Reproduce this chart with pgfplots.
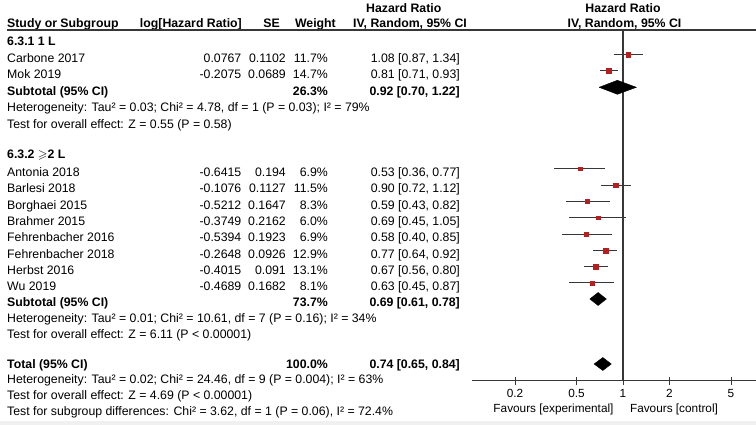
\documentclass[border=0pt]{standalone}
\usepackage{pgfplots}
\pgfplotsset{compat=1.18}
\usepackage{amssymb}
\usepackage{fontspec}
\setmainfont{Liberation Sans}
\definecolor{mred}{RGB}{180,32,32}
\definecolor{lgray}{RGB}{55,55,55}
\newcommand{\Lt}[3]{\node[anchor=base west,inner sep=0pt] at (#1,#2) {#3};}
\newcommand{\Rt}[3]{\node[anchor=base east,inner sep=0pt] at (#1,#2) {#3};}
\newcommand{\Ct}[3]{\node[anchor=base,inner sep=0pt] at (#1,#2) {#3};}
\begin{document}
\begin{tikzpicture}[x=1pt,y=-1pt]
\fontsize{12.3}{15}\selectfont
\useasboundingbox (0,0) rectangle (756,425);
% headers
\Lt{366}{12.3}{\textbf{Hazard Ratio}}
\Ct{623}{12.3}{\textbf{Hazard Ratio}}
\Lt{7}{28}{\textbf{Study or Subgroup}}
\Rt{242}{28}{\textbf{log[Hazard Ratio]}}
\Rt{280}{28}{\textbf{SE}}
\Rt{336}{28}{\textbf{Weight}}
\Lt{353}{28}{\textbf{IV, Random, 95\% CI}}
\Ct{624.5}{28}{\textbf{IV, Random, 95\% CI}}
\draw[lgray,line width=1.2pt] (7,30) -- (756,30);
% group 1
\Lt{7}{45.5}{\textbf{6.3.1 1 L}}
\Lt{7}{62.5}{Carbone 2017}\Rt{241.5}{62.5}{0.0767}\Rt{286}{62.5}{0.1102}\Rt{328}{62.5}{11.7\%}\Rt{460}{62.5}{1.08 [0.87, 1.34]}
\Lt{7}{79}{Mok 2019}\Rt{241.5}{79}{-0.2075}\Rt{286}{79}{0.0689}\Rt{328}{79}{14.7\%}\Rt{460}{79}{0.81 [0.71, 0.93]}
\Lt{7}{95.3}{\textbf{Subtotal (95\% CI)}}\Rt{328}{95.3}{\textbf{26.3\%}}\Rt{460}{95.3}{\textbf{0.92 [0.70, 1.22]}}
\Lt{7}{111.7}{Heterogeneity: Tau² = 0.03; Chi² = 4.78, df = 1 (P = 0.03); I² = 79\%}
\Lt{7}{128.2}{Test for overall effect: Z = 0.55 (P = 0.58)}
% group 2
\Lt{7}{158.5}{\textbf{6.3.2 $\geqslant$2 L}}
\Lt{7}{176.5}{Antonia 2018}\Rt{241.5}{176.5}{-0.6415}\Rt{286}{176.5}{0.194}\Rt{328}{176.5}{6.9\%}\Rt{460}{176.5}{0.53 [0.36, 0.77]}
\Lt{7}{193}{Barlesi 2018}\Rt{241.5}{193}{-0.1076}\Rt{286}{193}{0.1127}\Rt{328}{193}{11.5\%}\Rt{460}{193}{0.90 [0.72, 1.12]}
\Lt{7}{209.5}{Borghaei 2015}\Rt{241.5}{209.5}{-0.5212}\Rt{286}{209.5}{0.1647}\Rt{328}{209.5}{8.3\%}\Rt{460}{209.5}{0.59 [0.43, 0.82]}
\Lt{7}{225.7}{Brahmer 2015}\Rt{241.5}{225.7}{-0.3749}\Rt{286}{225.7}{0.2162}\Rt{328}{225.7}{6.0\%}\Rt{460}{225.7}{0.69 [0.45, 1.05]}
\Lt{7}{241.8}{Fehrenbacher 2016}\Rt{241.5}{241.8}{-0.5394}\Rt{286}{241.8}{0.1923}\Rt{328}{241.8}{6.9\%}\Rt{460}{241.8}{0.58 [0.40, 0.85]}
\Lt{7}{258.2}{Fehrenbacher 2018}\Rt{241.5}{258.2}{-0.2648}\Rt{286}{258.2}{0.0926}\Rt{328}{258.2}{12.9\%}\Rt{460}{258.2}{0.77 [0.64, 0.92]}
\Lt{7}{274.4}{Herbst 2016}\Rt{241.5}{274.4}{-0.4015}\Rt{286}{274.4}{0.091}\Rt{328}{274.4}{13.1\%}\Rt{460}{274.4}{0.67 [0.56, 0.80]}
\Lt{7}{290.7}{Wu 2019}\Rt{241.5}{290.7}{-0.4689}\Rt{286}{290.7}{0.1682}\Rt{328}{290.7}{8.1\%}\Rt{460}{290.7}{0.63 [0.45, 0.87]}
\Lt{7}{306}{\textbf{Subtotal (95\% CI)}}\Rt{328}{306}{\textbf{73.7\%}}\Rt{460}{306}{\textbf{0.69 [0.61, 0.78]}}
\Lt{7}{322.3}{Heterogeneity: Tau² = 0.01; Chi² = 10.61, df = 7 (P = 0.16); I² = 34\%}
\Lt{7}{338.6}{Test for overall effect: Z = 6.11 (P < 0.00001)}
% total
\Lt{7}{368}{\textbf{Total (95\% CI)}}\Rt{328}{368}{\textbf{100.0\%}}\Rt{460}{368}{\textbf{0.74 [0.65, 0.84]}}
\Lt{7}{383.5}{Heterogeneity: Tau² = 0.02; Chi² = 24.46, df = 9 (P = 0.004); I² = 63\%}
\Lt{7}{399.5}{Test for overall effect: Z = 4.69 (P < 0.00001)}
\Lt{7}{415.5}{Test for subgroup differences: Chi² = 3.62, df = 1 (P = 0.06), I² = 72.4\%}
% favours
{\fontsize{11.8}{14}\selectfont
\Ct{553.5}{412.5}{Favours [experimental]}
\Ct{674}{412.5}{Favours [control]}}
\coordinate (A) at (472,380.5);
\begin{axis}[at={(A)},anchor=south west,scale only axis,width=284pt,height=350.5pt,
  xmode=log,xmin=0.10535,xmax=7.2575,ymin=-380.5,ymax=-30,clip=false,
  axis x line*=bottom, hide y axis, x axis line style={lgray,line width=1.1pt,-},
  xtick={0.2,0.5,1,2,5},xticklabels={0.2,0.5,1,2,5},minor xtick={},
  tick align=center, major tick length=8pt, xtick style={lgray,line width=1pt},
  xticklabel style={font=\fontsize{11.8}{14}\selectfont,anchor=base,yshift=-13pt},
  /pgf/number format/assume math mode=true]
% vertical line of no effect
\addplot[lgray,line width=1.1pt] coordinates {(1,-30) (1,-380.5)};
% confidence intervals
\addplot[lgray,line width=1.1pt] coordinates {(0.87,-54.5) (1.34,-54.5)};
\addplot[lgray,line width=1.1pt] coordinates {(0.71,-70.8) (0.93,-70.8)};
\addplot[lgray,line width=1.1pt] coordinates {(0.36,-168.8) (0.77,-168.8)};
\addplot[lgray,line width=1.1pt] coordinates {(0.72,-185.2) (1.12,-185.2)};
\addplot[lgray,line width=1.1pt] coordinates {(0.43,-201.6) (0.82,-201.6)};
\addplot[lgray,line width=1.1pt] coordinates {(0.45,-217.9) (1.05,-217.9)};
\addplot[lgray,line width=1.1pt] coordinates {(0.40,-234.1) (0.85,-234.1)};
\addplot[lgray,line width=1.1pt] coordinates {(0.64,-250.4) (0.92,-250.4)};
\addplot[lgray,line width=1.1pt] coordinates {(0.56,-266.6) (0.80,-266.6)};
\addplot[lgray,line width=1.1pt] coordinates {(0.45,-282.9) (0.87,-282.9)};
% study squares (size by weight)
\addplot[only marks, mark=square*, scatter, scatter/use mapped color={draw=mred,fill=mred},
  visualization depends on={1.0+0.115*\thisrow{w} \as \msz},
  scatter/@pre marker code/.append style={/tikz/mark size=\msz pt}]
  table {
  hr y w
  1.08 -54.5 11.7
  0.81 -70.8 14.7
  0.53 -168.8 6.9
  0.90 -185.2 11.5
  0.59 -201.6 8.3
  0.69 -217.9 6.0
  0.58 -234.1 6.9
  0.77 -250.4 12.9
  0.67 -266.6 13.1
  0.63 -282.9 8.1
  };
% diamonds
\addplot[fill=black,draw=black] coordinates {(0.70,-87.3) (0.92,-80.3) (1.22,-87.3) (0.92,-94.3) (0.70,-87.3)};
\addplot[fill=black,draw=black] coordinates {(0.61,-299) (0.69,-292.5) (0.78,-299) (0.69,-305.5) (0.61,-299)};
\addplot[fill=black,draw=black] coordinates {(0.65,-364) (0.74,-357.5) (0.84,-364) (0.74,-370.5) (0.65,-364)};
\end{axis}
\fill[black!6] (0,421) rectangle (756,425);
\end{tikzpicture}
\end{document}
